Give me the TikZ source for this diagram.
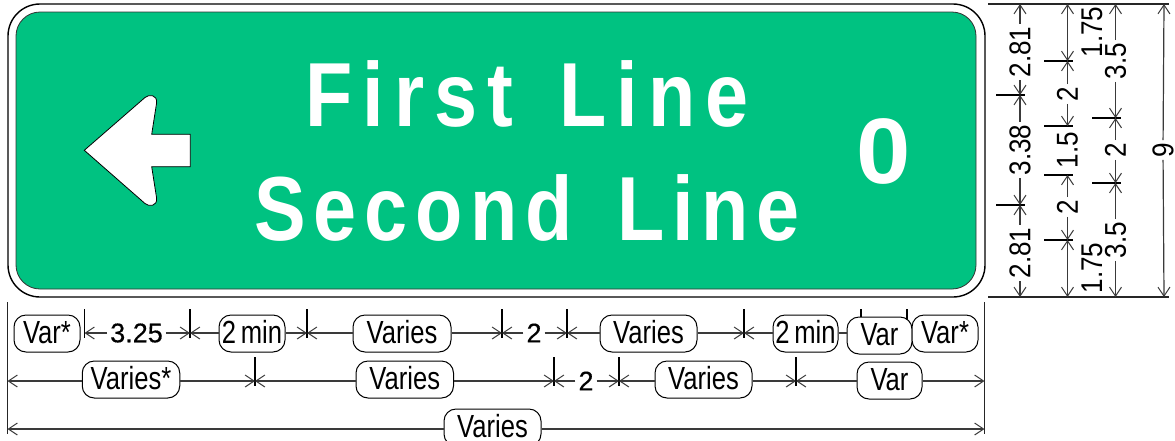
\documentclass[tikz,border=0pt]{standalone}
\usepackage{fontspec}
\usepackage{graphicx}
\setmainfont{Liberation Sans}
\newfontfamily\lineone[FakeStretch=0.85,LetterSpace=11]{Liberation Sans Bold}
\newfontfamily\linetwo[FakeStretch=0.85,LetterSpace=8.6]{Liberation Sans Bold}
\newfontfamily\semibold[FakeBold=0.4]{Liberation Sans}
\usetikzlibrary{arrows.meta}
\definecolor{signgreen}{HTML}{00C281}
\definecolor{dimgrey}{HTML}{3A3A3A}
\tikzset{
  barb/.tip={Straight Barb[length=9pt,width=12pt,line width=1pt]},
  dim/.style={draw=dimgrey,line width=1.2pt},
  tick/.style={draw=black,line width=1.1pt},
  hline/.style={draw=black!85,line width=1.5pt},
  pill/.style={draw=black,fill=white,line width=1pt,rounded corners=12pt,minimum height=37pt,inner sep=0pt,text height=23pt,text depth=3pt,font=\fontsize{32}{32}\selectfont},
  numlab/.style={font=\fontsize{27}{27}\semibold,inner sep=3pt},
  vlab/.style={rotate=90,font=\fontsize{30}{30}\selectfont,inner sep=2.5pt},
  signtext/.style={text=white,inner sep=0pt,anchor=base},
}
\newcommand{\nar}[1]{\scalebox{0.8}[1]{#1}}
\newcommand{\vnar}[1]{\scalebox{0.87}[1]{#1}}
\begin{document}
\begin{tikzpicture}[x=1pt,y=-1pt]
\useasboundingbox (0,0) rectangle (1175,440);
\clip (0,0) rectangle (1175,440);
% sign
\draw[black,line width=1.4pt,fill=white,rounded corners=32pt] (8,4) rectangle (985,297);
\draw[black!80,line width=0.8pt,fill=signgreen,rounded corners=24pt] (16,12) rectangle (976,289);
\draw[black,line width=0.8pt,fill=white]
  (84.3,150.3) -- (145,97.5) .. controls (149,94) and (157.5,94.5) .. (156.6,103)
  -- (151.7,134.3) -- (190.3,134.3) -- (190.3,166.7) -- (151.7,166.7) -- (156.6,198)
  .. controls (157.5,206.5) and (149,207) .. (145,203.5) -- cycle;
\node[signtext] (l1) at (527,126) {\fontsize{91}{91}\lineone First\kern15pt\ Line};
\node[signtext] (l2) at (527,240) {\fontsize{91}{91}\linetwo Second\kern15pt\ Line};
\node[signtext] (dist) at (884,183) {\fontsize{93}{93}\selectfont\bfseries\scalebox{1.05}[1]{0}};
% right extension lines
\coordinate (tl) at (988,4); \coordinate (tr) at (1169,4);
\coordinate (bl) at (988,297); \coordinate (br) at (1169,297);
\draw[hline] (tl) -- (tr);
\draw[hline] (bl) -- (br);
% column 1
\coordinate (c1t) at (1020,4); \coordinate (c1a) at (1020,95); \coordinate (c1b) at (1020,205); \coordinate (c1e) at (1020,297);
\coordinate (c1al) at (996,95); \coordinate (c1ar) at (1025,95); \coordinate (c1bl) at (996,205); \coordinate (c1br) at (1025,205);
\draw[tick] (c1al) -- (c1ar); \draw[tick] (c1bl) -- (c1br);
\node[vlab] (d1a) at (1020,52) {\vnar{2.81}};
\node[vlab] (d1b) at (1020,150) {\vnar{3.38}};
\node[vlab] (d1c) at (1020,253) {\vnar{2.81}};
\draw[dim,-{barb}] (d1a) -- (c1t); \draw[dim,-{barb}] (d1a) -- (c1a);
\draw[dim,-{barb}] (d1b) -- (c1a); \draw[dim,-{barb}] (d1b) -- (c1b);
\draw[dim,-{barb}] (d1c) -- (c1b); \draw[dim,-{barb}] (d1c) -- (c1e);
% column 2
\coordinate (c2t) at (1067.5,4); \coordinate (c2a) at (1067.5,61); \coordinate (c2b) at (1067.5,126);
\coordinate (c2c) at (1067.5,175); \coordinate (c2d) at (1067.5,240); \coordinate (c2e) at (1067.5,297);
\foreach \n/\y in {a/61,b/126,c/175,d/240}{
  \coordinate (c2\n l) at (1044,\y); \coordinate (c2\n r) at (1073,\y);
  \draw[tick] (c2\n l) -- (c2\n r);
}
\node[vlab] (d2a) at (1092,32) {\vnar{1.75}};
\node[vlab] (d2b) at (1067.5,94) {\vnar{2}};
\node[vlab] (d2c) at (1067.5,150) {\vnar{1.5}};
\node[vlab] (d2d) at (1067.5,207) {\vnar{2}};
\node[vlab] (d2e) at (1092,268) {\vnar{1.75}};
\draw[dim,{barb}-{barb}] (c2t) -- (c2a);
\draw[dim,-{barb}] (d2b) -- (c2a); \draw[dim,-{barb}] (d2b) -- (c2b);
\draw[dim,-{barb}] (d2d) -- (c2c); \draw[dim,-{barb}] (d2d) -- (c2d);
\draw[dim,{barb}-{barb}] (c2d) -- (c2e);
% column 3
\coordinate (c3t) at (1115.5,4); \coordinate (c3a) at (1115.5,118); \coordinate (c3b) at (1115.5,183); \coordinate (c3e) at (1115.5,297);
\coordinate (c3al) at (1092,118); \coordinate (c3ar) at (1121,118); \coordinate (c3bl) at (1092,183); \coordinate (c3br) at (1121,183);
\draw[tick] (c3al) -- (c3ar); \draw[tick] (c3bl) -- (c3br);
\node[vlab] (d3a) at (1115.5,61) {\vnar{3.5}};
\node[vlab] (d3b) at (1115.5,150) {\vnar{2}};
\node[vlab] (d3c) at (1115.5,240) {\vnar{3.5}};
\draw[dim,-{barb}] (d3a) -- (c3t); \draw[dim,-{barb}] (d3a) -- (c3a);
\draw[dim,-{barb}] (d3b) -- (c3a); \draw[dim,-{barb}] (d3b) -- (c3b);
\draw[dim,-{barb}] (d3c) -- (c3b); \draw[dim,-{barb}] (d3c) -- (c3e);
% column 4
\coordinate (c4t) at (1164,4); \coordinate (c4e) at (1164,297);
\node[vlab,inner ysep=0pt] (d4) at (1163,150) {\vnar{9}};
\draw[dim,-{barb}] (d4) -- (c4t); \draw[dim,-{barb}] (d4) -- (c4e);
% end lines
\coordinate (lt) at (7.5,302); \coordinate (lb) at (7.5,434); \coordinate (rt) at (984.5,302); \coordinate (rb) at (984.5,434);
\draw[hline] (lt) -- (lb); \draw[hline] (rt) -- (rb);
% row 1 ticks
\foreach \n/\x in {a/84.5,b/190,c/307,d/502,e/567,f/744}{
  \coordinate (r1\n t) at (\x,309); \coordinate (r1\n b) at (\x,338); \coordinate (r1\n) at (\x,333);
  \draw[tick] (r1\n t) -- (r1\n b);
}
\coordinate (r1gt) at (861,309); \coordinate (r1gb) at (861,320); \coordinate (r1ht) at (907,309); \coordinate (r1hb) at (907,320);
\draw[tick] (r1gt) -- (r1gb); \draw[tick] (r1ht) -- (r1hb);
\node[pill,minimum width=66pt] (p1) at (47,333.5) {\nar{Var*}};
\node[numlab] (n1) at (136.5,333) {3.25};
\node[pill,minimum width=66pt] (p2) at (252,333.5) {\nar{2\kern-3pt\ min}};
\node[pill,minimum width=98pt] (p3) at (402,333.5) {\nar{Varies}};
\node[numlab] (n2) at (534,333) {2};
\node[pill,minimum width=97pt] (p4) at (648.5,333.5) {\nar{Varies}};
\node[pill,minimum width=65pt] (p5) at (805.5,333.5) {\nar{2\kern-3pt\ min}};
\node[pill,minimum width=65pt] (p6) at (879.5,335.5) {\nar{Var}};
\node[pill,minimum width=66pt] (p7) at (945,333.5) {\nar{Var*}};
\draw[dim,-{barb}] (n1) -- (r1a);
\draw[dim,-{barb}] (n1) -- (r1b);
\draw[dim,-{barb}] (p2.west |- r1b) -- (r1b);
\draw[dim,-{barb}] (p2.east |- r1c) -- (r1c);
\draw[dim,-{barb}] (p3.west |- r1c) -- (r1c);
\draw[dim,-{barb}] (p3.east |- r1d) -- (r1d);
\draw[dim,-{barb}] (n2) -- (r1d);
\draw[dim,-{barb}] (n2) -- (r1e);
\draw[dim,-{barb}] (p4.west |- r1e) -- (r1e);
\draw[dim,-{barb}] (p4.east |- r1f) -- (r1f);
\draw[dim,-{barb}] (p5.west |- r1f) -- (r1f);
\draw[dim] (p5.east |- r1f) -- (p6.west |- r1f);
% row 2
\foreach \n/\x in {a/255,b/554,c/619,d/796}{
  \coordinate (r2\n t) at (\x,357); \coordinate (r2\n b) at (\x,386); \coordinate (r2\n) at (\x,381);
  \draw[tick] (r2\n t) -- (r2\n b);
}
\coordinate (r2l) at (7.5,381); \coordinate (r2r) at (984.5,381);
\node[pill,minimum width=97.5pt] (q1) at (131,379.5) {\nar{Varies*}};
\node[pill,minimum width=97.5pt] (q2) at (404.75,379.5) {\nar{Varies}};
\node[numlab] (n3) at (586,381) {2};
\node[pill,minimum width=97pt] (q3) at (703.5,379.5) {\nar{Varies}};
\node[pill,minimum width=65pt] (q4) at (889.5,380.5) {\nar{Var}};
\draw[dim,-{barb}] (q1.west |- r2l) -- (r2l);
\draw[dim,-{barb}] (q1.east |- r2a) -- (r2a);
\draw[dim,-{barb}] (q2.west |- r2a) -- (r2a);
\draw[dim,-{barb}] (q2.east |- r2b) -- (r2b);
\draw[dim,-{barb}] (n3) -- (r2b);
\draw[dim,-{barb}] (n3) -- (r2c);
\draw[dim,-{barb}] (q3.west |- r2c) -- (r2c);
\draw[dim,-{barb}] (q3.east |- r2d) -- (r2d);
\draw[dim,-{barb}] (q4.west |- r2d) -- (r2d);
\draw[dim,-{barb}] (q4.east |- r2r) -- (r2r);
% row 3
\coordinate (r3l) at (7.5,429); \coordinate (r3r) at (984.5,429);
\node[pill,minimum width=97pt] (v1) at (492.5,427.5) {\nar{Varies}};
\draw[dim,-{barb}] (v1.west |- r3l) -- (r3l);
\draw[dim,-{barb}] (v1.east |- r3r) -- (r3r);
\end{tikzpicture}
\end{document}
